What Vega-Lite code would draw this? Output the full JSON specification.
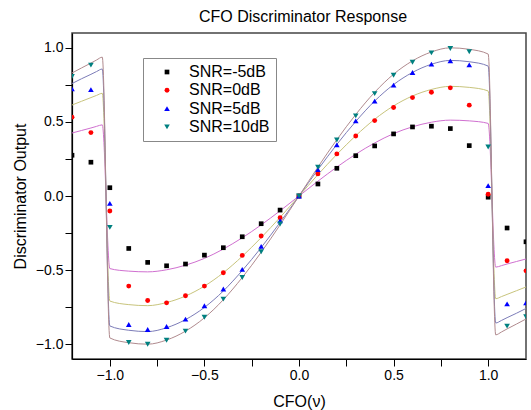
{
  "$schema": "https://vega.github.io/schema/vega-lite/v6.json",
  "width": 454,
  "height": 326,
  "autosize": {"type": "none"},
  "padding": {"left": 72, "top": 33, "right": 5, "bottom": 51},
  "background": "white",
  "title": {"text": "CFO Discriminator Response", "font": "Liberation Sans", "fontSize": 16, "fontWeight": "normal", "color": "#000", "offset": 8, "dx": 4},
  "config": {
    "font": "Liberation Sans",
    "view": {"stroke": "#444", "strokeWidth": 1.5},
    "axis": {"grid": false, "domainColor": "#000", "domainWidth": 1.2, "tickColor": "#000", "tickWidth": 1, "tickSize": 7, "labelFontSize": 14, "labelColor": "#000", "labelPadding": 2, "titleFontSize": 16, "titleFontWeight": "normal", "titleColor": "#000", "labelFont": "Liberation Sans", "titleFont": "Liberation Sans"},
    "legend": {"strokeColor": "#888", "fillColor": "white", "padding": 6, "symbolOffset": 10, "labelOffset": 14, "labelFontSize": 16, "labelFont": "Liberation Sans", "labelColor": "#000", "symbolSize": 18, "rowPadding": 2.3, "labelLimit": 200}
  },
  "datasets": {
    "pts": [
      {"s":"SNR=-5dB","x":-1.2,"y":0.275},{"s":"SNR=-5dB","x":-1.1,"y":0.228},{"s":"SNR=-5dB","x":-1.0,"y":0.056},{"s":"SNR=-5dB","x":-0.9,"y":-0.354},{"s":"SNR=-5dB","x":-0.8,"y":-0.448},{"s":"SNR=-5dB","x":-0.7,"y":-0.471},{"s":"SNR=-5dB","x":-0.6,"y":-0.459},{"s":"SNR=-5dB","x":-0.5,"y":-0.399},{"s":"SNR=-5dB","x":-0.4,"y":-0.349},{"s":"SNR=-5dB","x":-0.3,"y":-0.275},{"s":"SNR=-5dB","x":-0.2,"y":-0.187},{"s":"SNR=-5dB","x":-0.1,"y":-0.095},{"s":"SNR=-5dB","x":0,"y":0},{"s":"SNR=-5dB","x":0.1,"y":0.081},{"s":"SNR=-5dB","x":0.2,"y":0.187},{"s":"SNR=-5dB","x":0.3,"y":0.272},{"s":"SNR=-5dB","x":0.4,"y":0.338},{"s":"SNR=-5dB","x":0.5,"y":0.419},{"s":"SNR=-5dB","x":0.6,"y":0.466},{"s":"SNR=-5dB","x":0.7,"y":0.471},{"s":"SNR=-5dB","x":0.8,"y":0.455},{"s":"SNR=-5dB","x":0.9,"y":0.34},{"s":"SNR=-5dB","x":1.0,"y":-0.008},{"s":"SNR=-5dB","x":1.1,"y":-0.216},{"s":"SNR=-5dB","x":1.2,"y":-0.309},
      {"s":"SNR=0dB","x":-1.2,"y":0.532},{"s":"SNR=0dB","x":-1.1,"y":0.428},{"s":"SNR=0dB","x":-1.0,"y":-0.101},{"s":"SNR=0dB","x":-0.9,"y":-0.608},{"s":"SNR=0dB","x":-0.8,"y":-0.705},{"s":"SNR=0dB","x":-0.7,"y":-0.721},{"s":"SNR=0dB","x":-0.6,"y":-0.673},{"s":"SNR=0dB","x":-0.5,"y":-0.608},{"s":"SNR=0dB","x":-0.4,"y":-0.518},{"s":"SNR=0dB","x":-0.3,"y":-0.401},{"s":"SNR=0dB","x":-0.2,"y":-0.27},{"s":"SNR=0dB","x":-0.1,"y":-0.146},{"s":"SNR=0dB","x":0,"y":0},{"s":"SNR=0dB","x":0.1,"y":0.149},{"s":"SNR=0dB","x":0.2,"y":0.284},{"s":"SNR=0dB","x":0.3,"y":0.405},{"s":"SNR=0dB","x":0.4,"y":0.509},{"s":"SNR=0dB","x":0.5,"y":0.597},{"s":"SNR=0dB","x":0.6,"y":0.664},{"s":"SNR=0dB","x":0.7,"y":0.7},{"s":"SNR=0dB","x":0.8,"y":0.73},{"s":"SNR=0dB","x":0.9,"y":0.613},{"s":"SNR=0dB","x":1.0,"y":0.012},{"s":"SNR=0dB","x":1.1,"y":-0.437},{"s":"SNR=0dB","x":1.2,"y":-0.505},
      {"s":"SNR=5dB","x":-1.2,"y":0.723},{"s":"SNR=5dB","x":-1.1,"y":0.718},{"s":"SNR=5dB","x":-1.0,"y":-0.05},{"s":"SNR=5dB","x":-0.9,"y":-0.867},{"s":"SNR=5dB","x":-0.8,"y":-0.901},{"s":"SNR=5dB","x":-0.7,"y":-0.881},{"s":"SNR=5dB","x":-0.6,"y":-0.831},{"s":"SNR=5dB","x":-0.5,"y":-0.741},{"s":"SNR=5dB","x":-0.4,"y":-0.628},{"s":"SNR=5dB","x":-0.3,"y":-0.495},{"s":"SNR=5dB","x":-0.2,"y":-0.34},{"s":"SNR=5dB","x":-0.1,"y":-0.167},{"s":"SNR=5dB","x":0,"y":0},{"s":"SNR=5dB","x":0.1,"y":0.178},{"s":"SNR=5dB","x":0.2,"y":0.345},{"s":"SNR=5dB","x":0.3,"y":0.507},{"s":"SNR=5dB","x":0.4,"y":0.64},{"s":"SNR=5dB","x":0.5,"y":0.748},{"s":"SNR=5dB","x":0.6,"y":0.833},{"s":"SNR=5dB","x":0.7,"y":0.89},{"s":"SNR=5dB","x":0.8,"y":0.912},{"s":"SNR=5dB","x":0.9,"y":0.885},{"s":"SNR=5dB","x":1.0,"y":0.07},{"s":"SNR=5dB","x":1.1,"y":-0.728},{"s":"SNR=5dB","x":1.2,"y":-0.721},
      {"s":"SNR=10dB","x":-1.2,"y":0.806},{"s":"SNR=10dB","x":-1.1,"y":0.883},{"s":"SNR=10dB","x":-1.0,"y":-0.212},{"s":"SNR=10dB","x":-0.9,"y":-0.989},{"s":"SNR=10dB","x":-0.8,"y":-1.0},{"s":"SNR=10dB","x":-0.7,"y":-0.973},{"s":"SNR=10dB","x":-0.6,"y":-0.912},{"s":"SNR=10dB","x":-0.5,"y":-0.818},{"s":"SNR=10dB","x":-0.4,"y":-0.696},{"s":"SNR=10dB","x":-0.3,"y":-0.55},{"s":"SNR=10dB","x":-0.2,"y":-0.376},{"s":"SNR=10dB","x":-0.1,"y":-0.189},{"s":"SNR=10dB","x":0,"y":0},{"s":"SNR=10dB","x":0.1,"y":0.194},{"s":"SNR=10dB","x":0.2,"y":0.378},{"s":"SNR=10dB","x":0.3,"y":0.541},{"s":"SNR=10dB","x":0.4,"y":0.691},{"s":"SNR=10dB","x":0.5,"y":0.815},{"s":"SNR=10dB","x":0.6,"y":0.903},{"s":"SNR=10dB","x":0.7,"y":0.966},{"s":"SNR=10dB","x":0.8,"y":0.995},{"s":"SNR=10dB","x":0.9,"y":0.973},{"s":"SNR=10dB","x":1.0,"y":0.331},{"s":"SNR=10dB","x":1.1,"y":-0.878},{"s":"SNR=10dB","x":1.2,"y":-0.815}
    ],
    "fit": [
      {"s":"SNR=-5dB","x":-1.2,"y":0.425},{"s":"SNR=-5dB","x":-1.15,"y":0.442},{"s":"SNR=-5dB","x":-1.1,"y":0.459},{"s":"SNR=-5dB","x":-1.07,"y":0.47},{"s":"SNR=-5dB","x":-1.04,"y":0.48},{"s":"SNR=-5dB","x":-1.0,"y":-0.49},{"s":"SNR=-5dB","x":-0.9,"y":-0.507},{"s":"SNR=-5dB","x":-0.8,"y":-0.512},{"s":"SNR=-5dB","x":-0.7,"y":-0.498},{"s":"SNR=-5dB","x":-0.6,"y":-0.467},{"s":"SNR=-5dB","x":-0.5,"y":-0.421},{"s":"SNR=-5dB","x":-0.4,"y":-0.358},{"s":"SNR=-5dB","x":-0.3,"y":-0.282},{"s":"SNR=-5dB","x":-0.2,"y":-0.195},{"s":"SNR=-5dB","x":-0.1,"y":-0.1},{"s":"SNR=-5dB","x":0,"y":0},{"s":"SNR=-5dB","x":0.1,"y":0.1},{"s":"SNR=-5dB","x":0.2,"y":0.195},{"s":"SNR=-5dB","x":0.3,"y":0.282},{"s":"SNR=-5dB","x":0.4,"y":0.358},{"s":"SNR=-5dB","x":0.5,"y":0.421},{"s":"SNR=-5dB","x":0.6,"y":0.467},{"s":"SNR=-5dB","x":0.7,"y":0.498},{"s":"SNR=-5dB","x":0.8,"y":0.512},{"s":"SNR=-5dB","x":0.9,"y":0.507},{"s":"SNR=-5dB","x":1.0,"y":0.49},{"s":"SNR=-5dB","x":1.04,"y":-0.48},{"s":"SNR=-5dB","x":1.07,"y":-0.47},{"s":"SNR=-5dB","x":1.1,"y":-0.459},{"s":"SNR=-5dB","x":1.15,"y":-0.442},{"s":"SNR=-5dB","x":1.2,"y":-0.425},
      {"s":"SNR=0dB","x":-1.2,"y":0.614},{"s":"SNR=0dB","x":-1.15,"y":0.639},{"s":"SNR=0dB","x":-1.1,"y":0.664},{"s":"SNR=0dB","x":-1.07,"y":0.679},{"s":"SNR=0dB","x":-1.04,"y":0.693},{"s":"SNR=0dB","x":-1.0,"y":-0.709},{"s":"SNR=0dB","x":-0.9,"y":-0.733},{"s":"SNR=0dB","x":-0.8,"y":-0.74},{"s":"SNR=0dB","x":-0.7,"y":-0.719},{"s":"SNR=0dB","x":-0.6,"y":-0.675},{"s":"SNR=0dB","x":-0.5,"y":-0.608},{"s":"SNR=0dB","x":-0.4,"y":-0.518},{"s":"SNR=0dB","x":-0.3,"y":-0.407},{"s":"SNR=0dB","x":-0.2,"y":-0.281},{"s":"SNR=0dB","x":-0.1,"y":-0.144},{"s":"SNR=0dB","x":0,"y":0},{"s":"SNR=0dB","x":0.1,"y":0.144},{"s":"SNR=0dB","x":0.2,"y":0.281},{"s":"SNR=0dB","x":0.3,"y":0.407},{"s":"SNR=0dB","x":0.4,"y":0.518},{"s":"SNR=0dB","x":0.5,"y":0.608},{"s":"SNR=0dB","x":0.6,"y":0.675},{"s":"SNR=0dB","x":0.7,"y":0.719},{"s":"SNR=0dB","x":0.8,"y":0.74},{"s":"SNR=0dB","x":0.9,"y":0.733},{"s":"SNR=0dB","x":1.0,"y":0.709},{"s":"SNR=0dB","x":1.04,"y":-0.693},{"s":"SNR=0dB","x":1.07,"y":-0.679},{"s":"SNR=0dB","x":1.1,"y":-0.664},{"s":"SNR=0dB","x":1.15,"y":-0.639},{"s":"SNR=0dB","x":1.2,"y":-0.614},
      {"s":"SNR=5dB","x":-1.2,"y":0.759},{"s":"SNR=5dB","x":-1.15,"y":0.791},{"s":"SNR=5dB","x":-1.1,"y":0.821},{"s":"SNR=5dB","x":-1.07,"y":0.84},{"s":"SNR=5dB","x":-1.04,"y":0.857},{"s":"SNR=5dB","x":-1.0,"y":-0.877},{"s":"SNR=5dB","x":-0.9,"y":-0.906},{"s":"SNR=5dB","x":-0.8,"y":-0.915},{"s":"SNR=5dB","x":-0.7,"y":-0.889},{"s":"SNR=5dB","x":-0.6,"y":-0.834},{"s":"SNR=5dB","x":-0.5,"y":-0.752},{"s":"SNR=5dB","x":-0.4,"y":-0.641},{"s":"SNR=5dB","x":-0.3,"y":-0.503},{"s":"SNR=5dB","x":-0.2,"y":-0.348},{"s":"SNR=5dB","x":-0.1,"y":-0.178},{"s":"SNR=5dB","x":0,"y":0},{"s":"SNR=5dB","x":0.1,"y":0.178},{"s":"SNR=5dB","x":0.2,"y":0.348},{"s":"SNR=5dB","x":0.3,"y":0.503},{"s":"SNR=5dB","x":0.4,"y":0.641},{"s":"SNR=5dB","x":0.5,"y":0.752},{"s":"SNR=5dB","x":0.6,"y":0.834},{"s":"SNR=5dB","x":0.7,"y":0.889},{"s":"SNR=5dB","x":0.8,"y":0.915},{"s":"SNR=5dB","x":0.9,"y":0.906},{"s":"SNR=5dB","x":1.0,"y":0.877},{"s":"SNR=5dB","x":1.04,"y":-0.857},{"s":"SNR=5dB","x":1.07,"y":-0.84},{"s":"SNR=5dB","x":1.1,"y":-0.821},{"s":"SNR=5dB","x":1.15,"y":-0.791},{"s":"SNR=5dB","x":1.2,"y":-0.759},
      {"s":"SNR=10dB","x":-1.2,"y":0.83},{"s":"SNR=10dB","x":-1.15,"y":0.864},{"s":"SNR=10dB","x":-1.1,"y":0.897},{"s":"SNR=10dB","x":-1.07,"y":0.918},{"s":"SNR=10dB","x":-1.04,"y":0.937},{"s":"SNR=10dB","x":-1.0,"y":-0.958},{"s":"SNR=10dB","x":-0.9,"y":-0.99},{"s":"SNR=10dB","x":-0.8,"y":-1.0},{"s":"SNR=10dB","x":-0.7,"y":-0.972},{"s":"SNR=10dB","x":-0.6,"y":-0.912},{"s":"SNR=10dB","x":-0.5,"y":-0.822},{"s":"SNR=10dB","x":-0.4,"y":-0.7},{"s":"SNR=10dB","x":-0.3,"y":-0.55},{"s":"SNR=10dB","x":-0.2,"y":-0.38},{"s":"SNR=10dB","x":-0.1,"y":-0.195},{"s":"SNR=10dB","x":0,"y":0},{"s":"SNR=10dB","x":0.1,"y":0.195},{"s":"SNR=10dB","x":0.2,"y":0.38},{"s":"SNR=10dB","x":0.3,"y":0.55},{"s":"SNR=10dB","x":0.4,"y":0.7},{"s":"SNR=10dB","x":0.5,"y":0.822},{"s":"SNR=10dB","x":0.6,"y":0.912},{"s":"SNR=10dB","x":0.7,"y":0.972},{"s":"SNR=10dB","x":0.8,"y":1.0},{"s":"SNR=10dB","x":0.9,"y":0.99},{"s":"SNR=10dB","x":1.0,"y":0.958},{"s":"SNR=10dB","x":1.04,"y":-0.937},{"s":"SNR=10dB","x":1.07,"y":-0.918},{"s":"SNR=10dB","x":1.1,"y":-0.897},{"s":"SNR=10dB","x":1.15,"y":-0.864},{"s":"SNR=10dB","x":1.2,"y":-0.83}
    ]
  },
  "encoding": {
    "x": {"field": "x", "type": "quantitative", "scale": {"domain": [-1.2, 1.2], "nice": false, "zero": false},
          "axis": {"title": "CFO(ν)", "values": [-1, -0.75, -0.5, -0.25, 0, 0.25, 0.5, 0.75, 1], "labelExpr": "abs(datum.value*2 - round(datum.value*2)) < 0.01 ? format(datum.value, '.1f') : ''", "titleY": 42, "titleBaseline": "middle"}},
    "y": {"field": "y", "type": "quantitative", "scale": {"domain": [-1.1, 1.1], "nice": false, "zero": false},
          "axis": {"title": "Discriminator Output", "values": [-1, -0.75, -0.5, -0.25, 0, 0.25, 0.5, 0.75, 1], "labelExpr": "abs(datum.value*2 - round(datum.value*2)) < 0.01 ? format(datum.value, '.1f') : ''", "titleX": -52, "titleY": 163, "titleBaseline": "middle"}}
  },
  "layer": [
    {"data": {"name": "fit"}, "transform": [{"filter": {"field": "s", "equal": "SNR=-5dB"}}],
     "mark": {"type": "line", "interpolate": "monotone", "strokeWidth": 1, "clip": true, "color": "#d070d0"}},
    {"data": {"name": "fit"}, "transform": [{"filter": {"field": "s", "equal": "SNR=0dB"}}],
     "mark": {"type": "line", "interpolate": "monotone", "strokeWidth": 1, "clip": true, "color": "#c8c47c"}},
    {"data": {"name": "fit"}, "transform": [{"filter": {"field": "s", "equal": "SNR=5dB"}}],
     "mark": {"type": "line", "interpolate": "monotone", "strokeWidth": 1, "clip": true, "color": "#7c7cb8"}},
    {"data": {"name": "fit"}, "transform": [{"filter": {"field": "s", "equal": "SNR=10dB"}}],
     "mark": {"type": "line", "interpolate": "monotone", "strokeWidth": 1, "clip": true, "color": "#b08a8e"}},
    {
      "data": {"name": "pts"},
      "mark": {"type": "point", "filled": true, "opacity": 1, "clip": true},
      "encoding": {
        "color": {"field": "s", "type": "nominal", "scale": {"domain": ["SNR=-5dB", "SNR=0dB", "SNR=5dB", "SNR=10dB"], "range": ["#000000", "#ff0000", "#0000ff", "#008080"]},
                  "legend": {"title": null, "orient": "none", "legendX": 71, "legendY": 25}},
        "shape": {"field": "s", "type": "nominal", "scale": {"domain": ["SNR=-5dB", "SNR=0dB", "SNR=5dB", "SNR=10dB"], "range": ["square", "circle", "triangle-up", "triangle-down"]},
                  "legend": {"title": null, "orient": "none", "legendX": 71, "legendY": 25}},
        "size": {"field": "s", "type": "nominal", "scale": {"type": "ordinal", "domain": ["SNR=-5dB", "SNR=0dB", "SNR=5dB", "SNR=10dB"], "range": [22, 24, 32, 32]}, "legend": null}
      }
    }
  ]
}
